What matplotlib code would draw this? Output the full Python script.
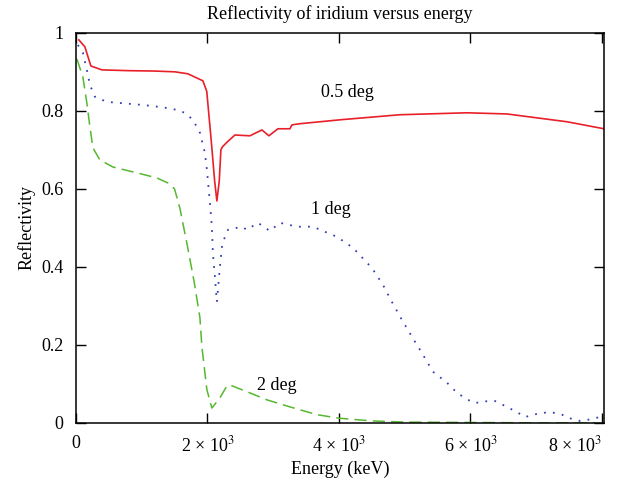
import matplotlib
matplotlib.use("Agg")
from matplotlib import pyplot as plt
from matplotlib.ticker import FuncFormatter

# 0.5 deg (red, solid)
e_05 = [45, 137, 228, 395, 800, 1200, 1506, 1703, 1931, 1990, 2060, 2110, 2144, 2180,
        2205, 2230, 2300, 2418, 2646, 2829, 2935, 3072, 3255, 3285, 3407, 4015, 4928,
        5947, 6555, 7468, 8030]
r_05 = [0.982, 0.964, 0.915, 0.905, 0.903, 0.902, 0.900, 0.895, 0.877, 0.85, 0.72, 0.62,
        0.569, 0.62, 0.70, 0.708, 0.72, 0.738, 0.736, 0.751, 0.736, 0.754, 0.754, 0.764,
        0.767, 0.777, 0.79, 0.795, 0.792, 0.772, 0.754]

# 1 deg (blue, dotted)
e_1 = [30, 106, 167, 213, 289, 471, 1019, 1278, 1475, 1658, 1780, 1886, 1962, 1992, 2038,
       2068, 2083, 2114, 2144, 2190, 2220, 2266, 2312, 2525, 2600, 2768, 2950, 3103, 3361,
       3605, 3757, 3970, 4213, 4502, 4669, 4806, 4958, 5110, 5262, 5430, 5643, 5795, 5962,
       6068, 6266, 6373, 6555, 6722, 6829, 7011, 7209, 7392, 7483, 7665, 7787, 7970]
r_1 = [0.969, 0.949, 0.905, 0.867, 0.836, 0.823, 0.815, 0.81, 0.805, 0.795, 0.777, 0.744,
       0.692, 0.65, 0.564, 0.503, 0.436, 0.374, 0.31, 0.40, 0.45, 0.477, 0.495, 0.503,
       0.495, 0.513, 0.492, 0.513, 0.503, 0.503, 0.492, 0.477, 0.449, 0.397, 0.354, 0.31,
       0.264, 0.221, 0.179, 0.131, 0.103, 0.077, 0.059, 0.051, 0.056, 0.056, 0.041, 0.026,
       0.015, 0.023, 0.028, 0.021, 0.013, 0.005, 0.008, 0.015]

# 2 deg (green, dashed)
e_2 = [15, 106, 167, 213, 259, 365, 563, 928, 1232, 1400, 1500, 1582, 1700, 1800, 1886,
       1916, 1992, 2068, 2190, 2297, 2342, 2600, 2905, 3255, 3665, 4000, 4500, 5000, 6000,
       7000, 7900]
r_2 = [0.933, 0.887, 0.82, 0.759, 0.705, 0.674, 0.656, 0.641, 0.628, 0.615, 0.60, 0.55,
       0.45, 0.36, 0.27, 0.195, 0.085, 0.038, 0.064, 0.095, 0.097, 0.08, 0.059, 0.041,
       0.021, 0.012, 0.005, 0.002, 0.001, 0.0, 0.0]

plt.rcParams['font.family'] = ['Liberation Serif', 'DejaVu Serif']
plt.rcParams['mathtext.fontset'] = 'stix'

fig = plt.figure(figsize=(6.22, 4.90), dpi=100)
ax = fig.add_axes([0.122, 0.137, 0.849, 0.796])

ax.plot(e_05, r_05, color='#e8202a', lw=1.2)
ax.plot(e_1, r_1, color='#3340b0', lw=1.3, linestyle=(0, (1, 4)))
ax.plot(e_2, r_2, color='#55b830', lw=1.1, linestyle=(0, (8, 4)))

ax.text(3720, 0.835, '0.5 deg', fontsize=13)
ax.text(3580, 0.535, '1 deg', fontsize=13)
ax.text(2760, 0.085, '2 deg', fontsize=13)

ax.set_xlim(0, 8030)
ax.set_ylim(0, 1)
ax.set_xticks([0, 2000, 4000, 6000, 8000])
ax.set_yticks([0, 0.2, 0.4, 0.6, 0.8, 1])
ax.xaxis.set_major_formatter(FuncFormatter(
    lambda v, p: '0' if v == 0 else '%d × 10$^{3}$' % (v / 1000)))
ax.yaxis.set_major_formatter(FuncFormatter(lambda v, p: '%g' % v))
ax.tick_params(direction='in', top=True, right=True, length=7, width=1,
               labelsize=13, pad=9)
for s in ax.spines.values():
    s.set_linewidth(1.1)
# keep the last label inside the figure
ax.get_xticklabels()[-1].set_horizontalalignment('center')
ax.xaxis.get_major_ticks()[-1].label1.set_horizontalalignment('right')
ax.xaxis.get_major_ticks()[-1].label1.set_x(8000)

ax.set_title('Reflectivity of iridium versus energy', fontsize=13, pad=10)
ax.set_xlabel('Energy (keV)', fontsize=13)
ax.set_ylabel('Reflectivity', fontsize=13)

fig.savefig('out.png', dpi=100)
